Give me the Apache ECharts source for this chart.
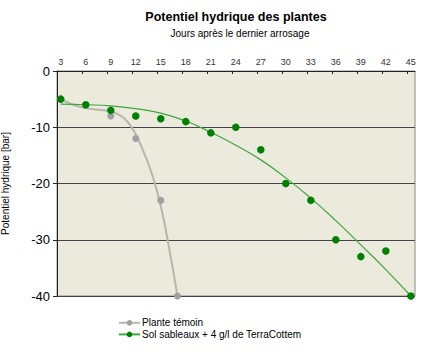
<!DOCTYPE html>
<html>
<head>
<meta charset="utf-8">
<script src="https://cdn.jsdelivr.net/npm/echarts@6/dist/echarts.min.js"></script>
<style>
  html, body { margin: 0; padding: 0; background: #fff; }
  #chart { width: 440px; height: 352px; }
</style>
</head>
<body>
<div id="chart"></div>
<script>
// measured points
const greenDays = [3, 6, 9, 12, 15, 18, 21, 24, 27, 30, 33, 36, 39, 42, 45];
const greenValues = [-5, -6, -7, -8, -8.5, -9, -11, -10, -14, -20, -23, -30, -33, -32, -40];
const grayDays = [3, 9, 12, 15, 17];
const grayValues = [-5, -8, -12, -23, -40];

// trend curves
const greenTrendDays = [3, 6, 9, 12, 15, 18, 21, 24, 27, 30, 33, 36, 39, 42, 45];
const greenTrend = [-5.9, -6.0, -6.2, -6.7, -7.5, -8.9, -10.9, -13.2, -15.8, -19.0, -22.6, -26.6, -30.9, -35.3, -40];
const grayTrendDays = [3, 4.5, 6, 7.5, 9, 10, 11, 12, 13, 14, 15, 16, 17];
const grayTrend = [-5.0, -6.0, -6.6, -6.9, -7.2, -7.8, -9.0, -11.3, -14.6, -18.6, -24.0, -31.5, -40];

const dayTicks = [3, 6, 9, 12, 15, 18, 21, 24, 27, 30, 33, 36, 39, 42, 45];
const yTicks = [0, -10, -20, -30, -40];

const nameGray = "Plante témoin";
const nameGreen = "Sol sableaux + 4 g/l de TerraCottem";

const font = "Liberation Sans, Arial, sans-serif";
const pair = (xs, ys) => xs.map((x, i) => [x, ys[i]]);

const chart = echarts.init(document.getElementById("chart"), null, { renderer: "svg" });
chart.setOption({
  animation: false,
  textStyle: { fontFamily: font },
  graphic: [
    {
      type: "text",
      x: 236, y: 10,
      style: { text: "Potentiel hydrique des plantes", fill: "#000", align: "center", font: "bold 12.5px " + font }
    },
    {
      type: "text",
      x: 240, y: 28,
      style: { text: "Jours après le dernier arrosage", fill: "#000", align: "center", font: "10px " + font }
    }
  ],
  grid: {
    left: 57, right: 25, top: 71, bottom: 56,
    outerBoundsMode: "none",
    containLabel: false,
    show: true, backgroundColor: "#ECE9DD", borderColor: "#8a8a8a", borderWidth: 1
  },
  legend: {
    orient: "vertical",
    left: 118, top: 317,
    padding: 0,
    itemWidth: 21, itemHeight: 7, itemGap: 0,
    textStyle: { fontSize: 10, lineHeight: 11.6, color: "#000", fontFamily: font, padding: [0, 0, 0, -3] },
    data: [nameGray, nameGreen]
  },
  xAxis: {
    type: "value",
    position: "top",
    min: 2.55, max: 45.5,
    axisLine: { show: true, lineStyle: { color: "#222", width: 1 } },
    axisTick: {
      show: true, inside: true, length: 3, lineStyle: { color: "#222" },
      customValues: dayTicks.slice(0, -1).map((d) => d + 2.55)
    },
    axisLabel: { customValues: dayTicks, fontSize: 9, color: "#333", margin: 5 },
    splitLine: { show: false }
  },
  yAxis: {
    type: "value",
    min: -40, max: 0, interval: 10,
    name: "Potentiel hydrique [bar]",
    nameLocation: "middle",
    nameGap: 47,
    nameTextStyle: { fontSize: 10, color: "#000" },
    axisLine: { show: true, lineStyle: { color: "#222", width: 1 } },
    axisTick: { show: true, length: 4, lineStyle: { color: "#222" } },
    axisLabel: { customValues: yTicks, fontSize: 13, color: "#000", margin: 7 },
    splitLine: { show: true, lineStyle: { color: "#444", width: 1 } }
  },
  series: [
    {
      name: nameGray,
      type: "line",
      smooth: true,
      showSymbol: false,
      symbol: "circle",
      symbolSize: 7,
      itemStyle: { color: "#a0a0a0" },
      lineStyle: { color: "#b5b7ad", width: 2 },
      data: pair(grayTrendDays, grayTrend),
      z: 2
    },
    {
      name: nameGreen,
      type: "line",
      smooth: true,
      showSymbol: false,
      symbol: "circle",
      symbolSize: 7,
      itemStyle: { color: "#008000" },
      lineStyle: { color: "#3ea83e", width: 1.2 },
      data: pair(greenTrendDays, greenTrend),
      z: 3
    },
    {
      name: nameGray,
      type: "scatter",
      symbol: "circle",
      symbolSize: 7,
      itemStyle: { color: "#a0a0a0", opacity: 1 },
      data: pair(grayDays, grayValues),
      z: 4
    },
    {
      name: nameGreen,
      type: "scatter",
      symbol: "circle",
      symbolSize: 7.5,
      itemStyle: { color: "#008000", opacity: 1 },
      data: pair(greenDays, greenValues),
      z: 5
    }
  ]
});
</script>
</body>
</html>
